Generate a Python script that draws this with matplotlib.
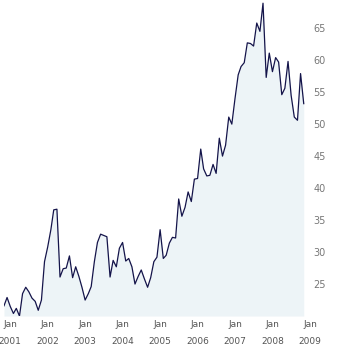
import numpy as np
import pandas as pd
import matplotlib
matplotlib.use("Agg")
import matplotlib.pyplot as plt

# monthly closing values, Nov 2000 .. Nov 2008
start_month = "2000-11-01"
prices = [
    21.6, 22.9, 21.5, 20.4, 21.2, 20.0, 23.5, 24.5, 23.8, 22.8, 22.3, 20.9,
    22.5, 28.5, 30.8, 33.5, 36.6, 36.7, 26.1, 27.4, 27.5, 29.4, 26.0, 27.7,
    26.2, 24.5, 22.5, 23.5, 24.6, 28.5, 31.5, 32.8, 32.6, 32.4, 26.1, 28.7,
    27.7, 30.6, 31.5, 28.6, 29.0, 27.7, 25.0, 26.2, 27.2, 25.8, 24.5, 26.0,
    28.5, 29.2, 33.5, 29.0, 29.5, 31.4, 32.3, 32.2, 38.3, 35.6, 37.0, 39.4,
    37.9, 41.4, 41.5, 46.1, 43.0, 41.9, 42.0, 43.7, 42.3, 47.8, 45.0, 46.7,
    51.1, 50.0, 54.0, 57.7, 59.0, 59.6, 62.7, 62.6, 62.2, 65.8, 64.5, 68.9,
    57.3, 61.1, 58.2, 60.4, 59.7, 54.6, 55.6, 59.8, 54.5, 51.1, 50.6, 57.9,
    53.2,
]
years = list(range(2001, 2010))
y_ticks = [25, 30, 35, 40, 45, 50, 55, 60, 65]

dates = pd.date_range(start_month, periods=len(prices), freq="MS")
tick_dates = [pd.Timestamp(f"{y}-01-01") for y in years]

fig = plt.figure(figsize=(3.5, 3.5), dpi=100)
ax = fig.add_axes([0.0114, 0.097, 0.8743, 0.903])

ax.fill_between(dates, prices, 20, color="#edf4f7", linewidth=0)
ax.plot(dates, prices, color="#14144a", linewidth=0.9)

ax.set_xticks(tick_dates)
ax.set_xticklabels([f"Jan\n{y}" for y in years], linespacing=2.1)
ax.yaxis.tick_right()
ax.set_yticks(y_ticks)
ax.set_yticklabels([str(v) for v in y_ticks])
# limits after ticks, set_ticks would widen them otherwise
ax.set_xlim(dates[0], tick_dates[-1])
ax.set_ylim(20, 69.4)

ax.tick_params(axis="x", length=0, pad=3, labelsize=6.5, colors="#555555")
ax.tick_params(axis="y", length=0, pad=2.5, labelsize=7, colors="#777777")
for s in ax.spines.values():
    s.set_visible(False)

fig.savefig("out.png", dpi=100)
